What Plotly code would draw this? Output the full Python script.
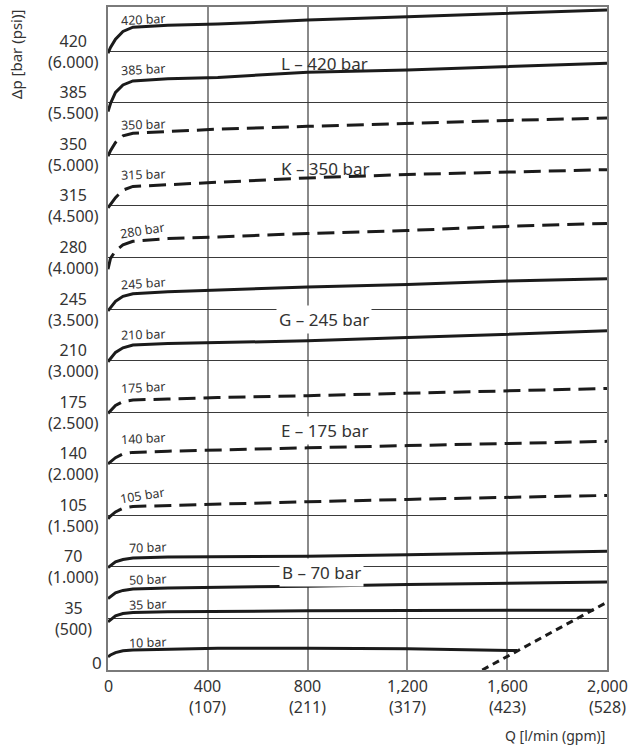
import plotly.graph_objects as go

# ---------------- data ----------------
flow = [0, 10, 30, 60, 100, 240, 440, 800, 1200, 1600, 2000]
flow_35 = [0, 10, 30, 60, 100, 240, 440, 800, 1200, 1600, 1945]
flow_10 = [0, 10, 30, 60, 100, 240, 440, 800, 1200, 1640]

p_420 = [418.6, 422.5, 428.2, 433.4, 436.3, 437.6, 438.4, 441.1, 443.4, 445.7, 448.0]
p_385 = [379.1, 384.5, 392.0, 397.1, 399.8, 401.3, 402.2, 405.7, 407.3, 409.6, 411.8]
p_350 = [348.7, 352.5, 358.0, 362.5, 364.3, 365.3, 367.1, 369.0, 371.2, 373.0, 374.6]
p_315 = [313.7, 316.2, 320.6, 325.7, 328.2, 329.4, 331.0, 334.0, 336.3, 338.0, 339.6]
p_280 = [272.0, 279.4, 284.5, 288.5, 291.0, 292.8, 293.9, 296.3, 298.3, 301.1, 303.1]
p_245 = [243.7, 246.0, 250.2, 253.6, 255.3, 256.8, 257.9, 260.0, 261.6, 264.0, 265.6]
p_210 = [209.2, 211.5, 215.6, 218.7, 220.6, 221.6, 222.3, 223.4, 225.6, 228.0, 230.2]
p_175 = [174.2, 176.0, 179.5, 182.2, 183.3, 183.9, 185.0, 186.2, 187.7, 189.6, 191.1]
p_140 = [139.9, 141.5, 144.1, 146.7, 147.7, 148.5, 149.4, 150.8, 152.3, 153.9, 155.2]
p_105 = [102.7, 104.5, 107.3, 109.8, 111.0, 111.7, 112.4, 114.2, 115.8, 116.9, 118.5]
p_70 = [69.5, 71.0, 73.4, 75.0, 76.0, 76.7, 76.8, 77.2, 78.3, 79.7, 80.6]
p_50 = [48.5, 50.0, 52.4, 54.0, 55.0, 55.7, 56.0, 56.9, 58.0, 58.9, 59.8]
p_35 = [32.7, 34.2, 36.7, 38.3, 39.1, 39.5, 39.9, 40.2, 40.4, 40.6, 40.6]
p_10 = [9.0, 10.2, 11.8, 13.0, 13.5, 14.2, 14.7, 14.8, 14.5, 13.2]

flow_limit = [1500, 2000]
p_limit = [0, 46]

curve_labels = ["420 bar", "385 bar", "350 bar", "315 bar", "280 bar", "245 bar", "210 bar",
                "175 bar", "140 bar", "105 bar", "70 bar", "50 bar", "35 bar", "10 bar"]

y_ticks_bar = [35, 70, 105, 140, 175, 210, 245, 280, 315, 350, 385, 420]
y_ticks_psi = ["(500)", "(1.000)", "(1.500)", "(2.000)", "(2.500)", "(3.000)",
               "(3.500)", "(4.000)", "(4.500)", "(5.000)", "(5.500)", "(6.000)"]

x_ticks_lmin = [0, 400, 800, 1200, 1600, 2000]
x_ticks_text = ["0", "400", "800", "1,200", "1,600", "2,000"]
x_ticks_gpm = ["", "(107)", "(211)", "(317)", "(423)", "(528)"]

series_text = ["L – 420 bar", "K – 350 bar", "G – 245 bar", "E – 175 bar", "B – 70 bar"]

# ---------------- styling / layout helpers ----------------
curves = [
    (flow, p_420, False), (flow, p_385, False), (flow, p_350, True), (flow, p_315, True),
    (flow, p_280, True), (flow, p_245, False), (flow, p_210, False), (flow, p_175, True),
    (flow, p_140, True), (flow, p_105, True), (flow, p_70, False), (flow, p_50, False),
    (flow_35, p_35, False), (flow_10, p_10, False),
]

label_pos = [441.5, 407.5, 370.0, 336.0, 298.5, 262.0, 227.5, 191.5, 157.0, 118.5, 83.0, 61.5, 44.5, 18.5]
label_angle = [-3, -3, -2, -2, -9, -4, -2, -3, -3, -9, -2, -2, -2, -2]
series_pos = [(869, 411.6), (869, 340.5), (865, 237.6), (869, 162.5), (854, 66.3)]
series_bg = [False, False, True, True, True]

INK = "#1b1b1b"
TXT = "#333333"
FONT = "Noto Sans"
TICK = 16

fig = go.Figure()

for fx, fy, dashed in curves:
    fig.add_trace(go.Scatter(
        x=fx, y=fy, mode="lines",
        line=dict(color=INK, width=3, dash="17px,8px" if dashed else "solid"),
        hoverinfo="skip", showlegend=False,
    ))

fig.add_trace(go.Scatter(
    x=flow_limit, y=p_limit, mode="lines",
    line=dict(color=INK, width=3, dash="7px,5px"),
    hoverinfo="skip", showlegend=False, cliponaxis=False,
))

annotations = []
# y tick labels (bar over psi, centred)
for v, psi in zip(y_ticks_bar, y_ticks_psi):
    annotations.append(dict(xref="paper", yref="y", x=-0.07, y=v, text=f"{v}<br>{psi}",
                            showarrow=False, xanchor="center", yanchor="middle", align="center",
                            font=dict(size=TICK, color=TXT, family=FONT)))
annotations.append(dict(xref="paper", yref="y", x=-0.022, y=0, text="0",
                        showarrow=False, xanchor="center", yanchor="middle", yshift=8,
                        font=dict(size=17, color=TXT, family=FONT)))

# x tick labels (l/min over gpm, centred)
for q, t, g in zip(x_ticks_lmin, x_ticks_text, x_ticks_gpm):
    txt = t if g == "" else f"{t}<br>{g}"
    annotations.append(dict(xref="x", yref="paper", x=q, y=0, text=txt, showarrow=False,
                            xanchor="center", yanchor="top", align="center", yshift=-3,
                            font=dict(size=TICK, color=TXT, family=FONT)))

# curve labels
for txt, yp, ang in zip(curve_labels, label_pos, label_angle):
    annotations.append(dict(x=242, y=yp, text=txt, showarrow=False, xanchor="right",
                            yanchor="middle", textangle=ang,
                            font=dict(size=12.5, color=TXT, family=FONT)))

# series labels
for txt, (sx, sy), bg in zip(series_text, series_pos, series_bg):
    d = dict(x=sx, y=sy, text=txt, showarrow=False, xanchor="center", yanchor="middle",
             font=dict(size=17, color=TXT, family=FONT))
    if bg:
        d.update(bgcolor="white", borderpad=2)
    annotations.append(d)

# axis titles
annotations.append(dict(xref="paper", yref="paper", x=-0.184, y=1.0, text="Δp [bar (psi)]",
                        showarrow=False, xanchor="center", yanchor="top", textangle=-90,
                        font=dict(size=15, color=TXT, family=FONT)))
annotations.append(dict(xref="paper", yref="paper", x=1.0, y=0, yshift=-65,
                        text="Q [l/min (gpm)]", showarrow=False, xanchor="right",
                        yanchor="middle", font=dict(size=14, color=TXT, family=FONT)))

fig.update_layout(
    width=640, height=751,
    margin=dict(l=108, r=33, t=5, b=81),
    paper_bgcolor="white", plot_bgcolor="white",
    showlegend=False,
    annotations=annotations,
    xaxis=dict(range=[0, 2000], tickvals=x_ticks_lmin, showticklabels=False,
               showgrid=True, gridcolor="#8a8a8a", gridwidth=1.5,
               showline=True, linecolor="#7a7a7a", linewidth=2, mirror=True,
               ticks="", zeroline=False),
    yaxis=dict(range=[0, 450], tick0=0, dtick=35, showticklabels=False,
               showgrid=True, gridcolor="#3a3a3a", gridwidth=1,
               showline=True, linecolor="#7a7a7a", linewidth=2, mirror=True,
               ticks="", zeroline=False),
)

fig.write_html("out.html")
